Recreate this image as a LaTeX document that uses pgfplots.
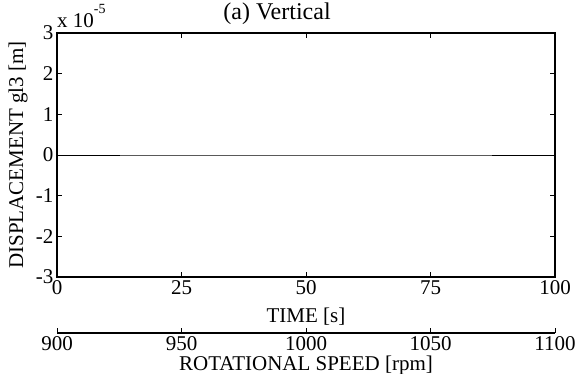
\documentclass[border=0pt]{standalone}
\usepackage{fontspec}
\setmainfont{Liberation Serif}
\usepackage{pgfplots}
\pgfplotsset{compat=1.18}
\begin{document}
\begin{tikzpicture}
\useasboundingbox (-57pt,-97pt) rectangle (531pt,277pt);
\begin{axis}[at={(0pt,0pt)}, anchor=south west, scale only axis,
  width=498pt, height=244pt,
  xmin=0, xmax=100, ymin=-3, ymax=3,
  xtick={0,25,50,75,100}, ytick={-3,-2,-1,0,1,2,3},
  tick align=inside, major tick length=5pt,
  axis line style={line width=1.1pt}, tick style={line width=0.9pt, black},
  /pgf/number format/assume math mode=true,
  tick label style={font=\fontsize{21}{25}\selectfont},
  label style={font=\fontsize{21}{25}\selectfont},
  xlabel={TIME [s]},
  xlabel style={at={(axis description cs:0.5,-0.164)}, anchor=center},
  ylabel={DISPLACEMENT gl3 [m]},
  ylabel style={at={(axis description cs:-0.078,0.5)}, anchor=center},
  clip=false]
\addplot[black, line width=0.9pt] coordinates {(0,0) (25,0) (50,0) (75,0) (100,0)};
\node[anchor=base west, inner sep=0pt, font=\fontsize{21}{25}\selectfont] at (rel axis cs:0,1) [yshift=5pt] {x 10\raisebox{14pt}{\fontsize{14}{14}\selectfont -5}};
\end{axis}
\node[anchor=base, inner sep=0pt, font=\fontsize{24}{29}\selectfont] at (220pt,257pt) {(a) Vertical};
\begin{axis}[at={(0pt,-56pt)}, anchor=south west, scale only axis,
  width=498pt, height=10pt,
  xmin=900, xmax=1100, ymin=0, ymax=1,
  xtick={900,950,1000,1050,1100},
  axis x line*=bottom, axis y line=none,
  tick align=inside, major tick length=5pt,
  axis line style={line width=1.1pt}, tick style={line width=0.9pt, black},
  /pgf/number format/assume math mode=true,
  /pgf/number format/1000 sep={},
  tick label style={font=\fontsize{21}{25}\selectfont},
  label style={font=\fontsize{21}{25}\selectfont},
  xlabel={ROTATIONAL SPEED [rpm]},
  xlabel style={at={(axis description cs:0.5,-3.2)}, anchor=center}]
\end{axis}
\end{tikzpicture}
\end{document}
